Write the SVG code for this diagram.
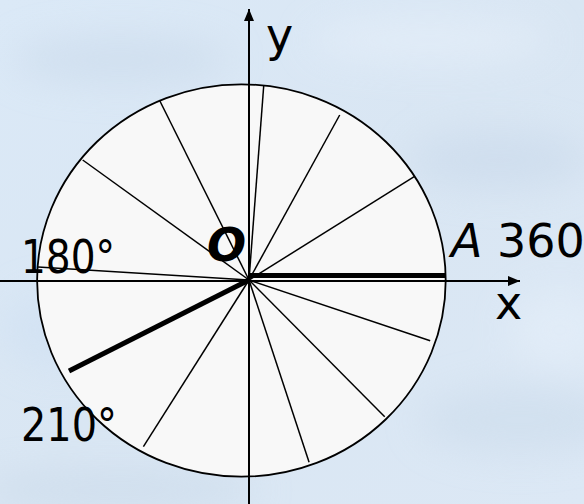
<svg xmlns="http://www.w3.org/2000/svg" width="584" height="504" viewBox="0 0 584 504">
  <defs>
    <linearGradient id="bg" x1="0" y1="0" x2="1" y2="1">
      <stop offset="0" stop-color="#dbe9f7"/>
      <stop offset="0.5" stop-color="#d9e6f3"/>
      <stop offset="1" stop-color="#dce8f5"/>
    </linearGradient>
    <filter id="blur" x="-50%" y="-50%" width="200%" height="200%">
      <feGaussianBlur stdDeviation="18"/>
    </filter>
    <marker id="arrow" viewBox="0 0 12 10" refX="12" refY="5" markerWidth="12" markerHeight="10" markerUnits="userSpaceOnUse" orient="auto">
      <path d="M0,0 L12,5 L0,10 Z" fill="#000"/>
    </marker>
    <style>
      .spoke { stroke: #000; stroke-width: 1.5; fill: none; stroke-linecap: butt; }
      .thick { stroke: #000; stroke-width: 5; fill: none; }
      .axis { stroke: #000; stroke-width: 2; fill: none; }
      .lbl { font-family: "DejaVu Sans", "Liberation Sans", sans-serif; font-size: 46px; fill: #000; }
    </style>
  </defs>

  <g id="background">
    <rect x="0" y="0" width="584" height="504" fill="url(#bg)"/>
    <g filter="url(#blur)" opacity="0.55">
      <ellipse cx="120" cy="60" rx="110" ry="25" fill="#c9d9ea"/>
      <ellipse cx="430" cy="40" rx="120" ry="22" fill="#e8f1fb"/>
      <ellipse cx="500" cy="160" rx="90" ry="30" fill="#c8d8ea"/>
      <ellipse cx="60" cy="330" rx="60" ry="40" fill="#cfe0f3"/>
      <ellipse cx="520" cy="420" rx="100" ry="35" fill="#cbdbeb"/>
      <ellipse cx="120" cy="490" rx="140" ry="20" fill="#c8d8e8"/>
      <ellipse cx="560" cy="330" rx="50" ry="40" fill="#e6f0fa"/>
    </g>
  </g>

  <g id="circle-fill">
    <ellipse cx="241.4" cy="280.5" rx="204.3" ry="196.2" fill="#f8f8f8"/>
  </g>

  <g id="connectors">
    <line class="spoke" x1="249" y1="280" x2="263.7" y2="86"/>
    <line class="spoke" x1="249" y1="280" x2="339.7" y2="115"/>
    <line class="spoke" x1="249" y1="280" x2="414.2" y2="176.7"/>
    <line class="spoke" x1="249" y1="280" x2="430.2" y2="340.7"/>
    <line class="spoke" x1="249" y1="280" x2="384.7" y2="416.7"/>
    <line class="spoke" x1="249" y1="280" x2="309.1" y2="462.3"/>
    <line class="spoke" x1="249" y1="280" x2="143.4" y2="446.7"/>
    <line class="spoke" x1="249" y1="280" x2="38" y2="267"/>
    <line class="spoke" x1="249" y1="280" x2="82.7" y2="160"/>
    <line class="spoke" x1="249" y1="280" x2="159.4" y2="100"/>
    <line id="ray-360" class="thick" x1="249" y1="275.5" x2="445" y2="275.5"/>
    <line id="ray-210" class="thick" x1="249" y1="280" x2="69" y2="371"/>
  </g>

  <g id="circle-outline">
    <ellipse cx="241.4" cy="280.5" rx="204.3" ry="196.2" fill="none" stroke="#000" stroke-width="1.8"/>
  </g>

  <g id="axes">
    <line id="x-axis" class="axis" x1="0" y1="281" x2="520" y2="281" marker-end="url(#arrow)"/>
    <line id="y-axis" class="axis" x1="249" y1="504" x2="249" y2="9" marker-end="url(#arrow)"/>
  </g>

  <g id="label-y"><text class="lbl" x="266" y="51">y</text></g>
  <g id="label-x"><text class="lbl" x="495" y="319">x</text></g>
  <g id="label-O"><text class="lbl" x="207" y="261" font-weight="bold" font-style="italic" font-size="48">O</text></g>
  <g id="label-180"><text class="lbl" x="21" y="273" textLength="94" lengthAdjust="spacingAndGlyphs">180°</text></g>
  <g id="label-210"><text class="lbl" x="21" y="441" textLength="96" lengthAdjust="spacingAndGlyphs">210°</text></g>
  <g id="label-A"><text class="lbl" x="451" y="257"><tspan font-style="italic">A</tspan> 360°</text></g>
</svg>
